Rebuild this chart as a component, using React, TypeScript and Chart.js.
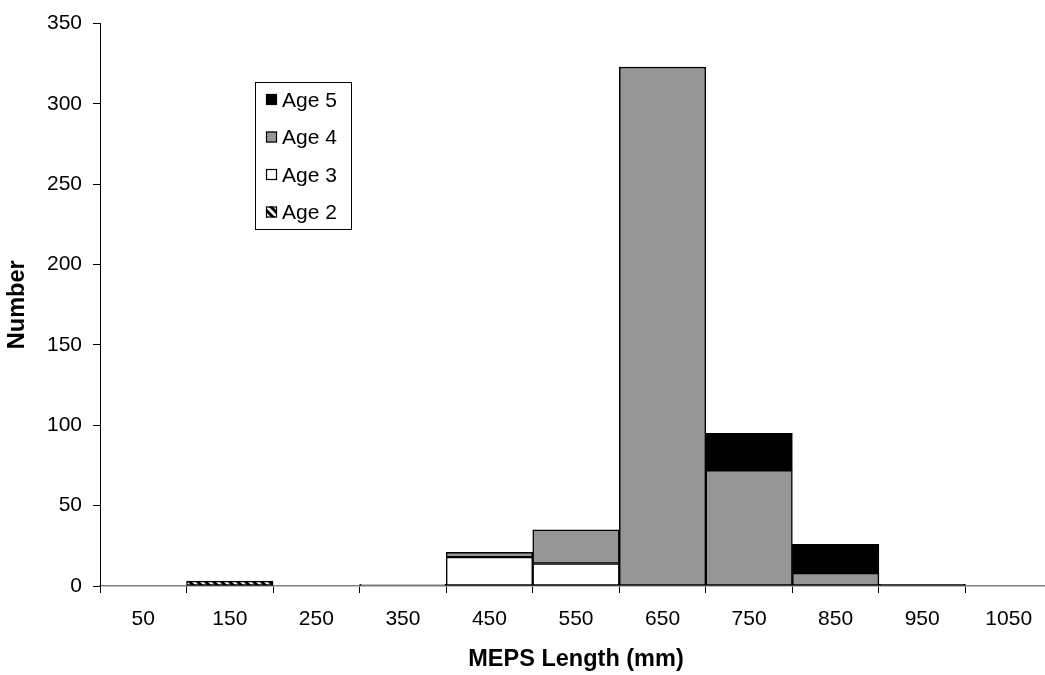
import React, { useEffect, useRef } from "react";
import { Chart, registerables } from "chart.js";

Chart.register(...registerables);

const categories = ["50", "150", "250", "350", "450", "550", "650", "750", "850", "950", "1050"];
const age2 = [0, 3, 0, 0, 0, 0, 0, 0, 0, 0, 0];
const age3 = [0, 0, 0, 1, 18, 14, 0, 0, 0, 0, 0];
const age4 = [0, 0, 0, 0, 3, 21, 323, 72, 8, 0, 0];
const age5 = [0, 0, 0, 0, 0, 0, 0, 23, 18, 1, 0];
const seriesNames = ["Age 2", "Age 3", "Age 4", "Age 5"];
const yMin = 0;
const yMax = 350;
const yStep = 50;

const FONT = "'Liberation Sans', Arial, sans-serif";

function makeHatch(): CanvasPattern | string {
  const c = document.createElement("canvas");
  c.width = 8;
  c.height = 8;
  const g = c.getContext("2d");
  if (!g) return "#000";
  g.fillStyle = "#fff";
  g.fillRect(0, 0, 8, 8);
  g.strokeStyle = "#000";
  g.lineWidth = 3;
  g.beginPath();
  g.moveTo(-2, -2);
  g.lineTo(10, 10);
  g.moveTo(-2, 6);
  g.lineTo(2, 10);
  g.moveTo(6, -2);
  g.lineTo(10, 2);
  g.stroke();
  return g.createPattern(c, "repeat") || "#000";
}

const boxLegend = {
  id: "boxLegend",
  afterDraw(chart: any) {
    const ctx: CanvasRenderingContext2D = chart.ctx;
    const items = [...chart.data.datasets].reverse();
    const left = 255;
    const top = 82;
    const w = 96;
    const h = 147;
    ctx.save();
    ctx.fillStyle = "#fff";
    ctx.fillRect(left, top, w, h);
    ctx.strokeStyle = "#000";
    ctx.lineWidth = 1;
    ctx.strokeRect(left + 0.5, top + 0.5, w, h);
    ctx.font = `21px ${FONT}`;
    ctx.textBaseline = "middle";
    ctx.textAlign = "left";
    items.forEach((ds: any, i: number) => {
      const cy = top + 18 + i * 37.5;
      ctx.fillStyle = ds.backgroundColor;
      ctx.fillRect(266, cy - 6, 11, 11);
      ctx.strokeStyle = "#000";
      ctx.lineWidth = 1.2;
      ctx.strokeRect(266.5, cy - 5.5, 10, 10);
      ctx.fillStyle = "#000";
      ctx.fillText(ds.label, 282, cy + 1);
    });
    ctx.restore();
  },
};

export default function App() {
  const ref = useRef<HTMLCanvasElement | null>(null);

  useEffect(() => {
    if (!ref.current) return;
    const hatch = makeHatch();
    const common = {
      borderColor: "#000",
      borderWidth: 1.5,
      borderSkipped: false as const,
      barPercentage: 1,
      categoryPercentage: 1,
    };
    const chart = new Chart(ref.current, {
      type: "bar",
      data: {
        labels: categories,
        datasets: [
          { label: seriesNames[0], data: age2, backgroundColor: hatch as any, ...common },
          { label: seriesNames[1], data: age3, backgroundColor: "#ffffff", ...common },
          { label: seriesNames[2], data: age4, backgroundColor: "#969696", ...common },
          { label: seriesNames[3], data: age5, backgroundColor: "#000000", ...common },
        ],
      },
      options: {
        responsive: false,
        animation: false,
        layout: { padding: { top: 20, right: 8, left: 0, bottom: 0 } },
        plugins: {
          legend: { display: false },
          tooltip: { enabled: false },
        },
        scales: {
          x: {
            type: "category",
            stacked: true,
            offset: true,
            grid: {
              offset: true,
              drawOnChartArea: false,
              drawTicks: true,
              tickLength: 7,
              color: "#000",
            },
            border: { color: "#808080", width: 1.5 },
            ticks: {
              color: "#000",
              padding: 14,
              maxRotation: 0,
              autoSkip: false,
              font: { family: FONT, size: 21 },
            },
            title: {
              display: true,
              text: "MEPS Length (mm)",
              color: "#000",
              padding: { top: 0, bottom: 1 },
              font: { family: FONT, size: 23.5, weight: "bold" },
            },
            afterFit(scale: any) {
              scale.height = 89;
            },
          },
          y: {
            stacked: true,
            min: yMin,
            max: yMax,
            grid: {
              drawOnChartArea: false,
              drawTicks: true,
              tickLength: 7,
              color: "#000",
            },
            border: { color: "#000", width: 1 },
            ticks: {
              stepSize: yStep,
              color: "#000",
              padding: 11,
              font: { family: FONT, size: 21 },
            },
            title: {
              display: true,
              text: "Number",
              color: "#000",
              padding: { top: 3, bottom: 0 },
              font: { family: FONT, size: 23.5, weight: "bold" },
            },
            afterFit(scale: any) {
              scale.width = 100;
            },
          },
        },
      },
      plugins: [boxLegend],
    });
    return () => chart.destroy();
  }, []);

  return (
    <div
      style={{
        position: "fixed",
        left: 0,
        top: 0,
        width: 1045,
        height: 675,
        overflow: "hidden",
        background: "#fff",
      }}
    >
      <canvas ref={ref} width={1060} height={675} style={{ display: "block" }} />
    </div>
  );
}
